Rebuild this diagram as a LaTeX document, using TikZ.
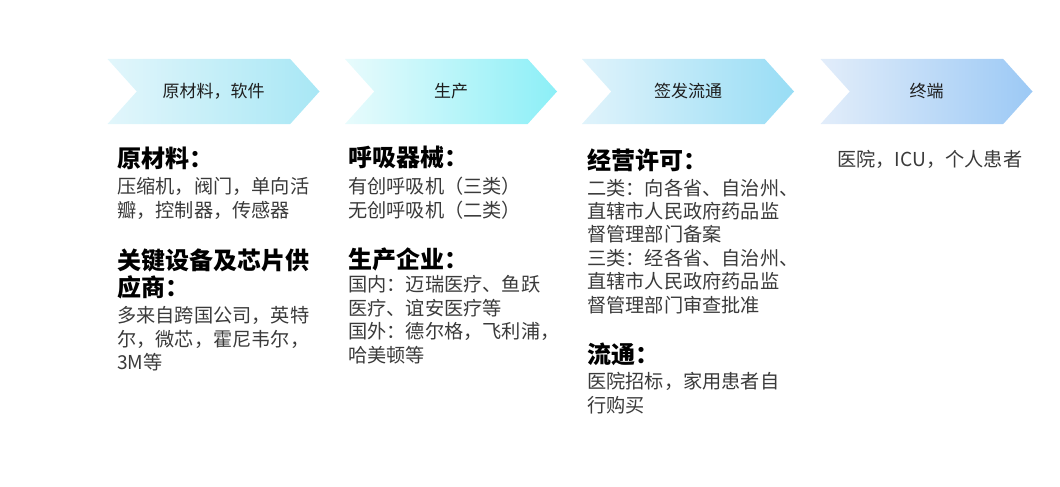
\documentclass[tikz,border=0pt]{standalone}
\usepackage{fontspec}
\setmainfont{Noto Sans CJK SC}
\usetikzlibrary{positioning,shapes.symbols}

\definecolor{rawL}{HTML}{E2F6FB}
\definecolor{rawR}{HTML}{A8E7F5}
\definecolor{prodL}{HTML}{E8FBFC}
\definecolor{prodR}{HTML}{8CEFF7}
\definecolor{distL}{HTML}{E0F3FB}
\definecolor{distR}{HTML}{98DDF5}
\definecolor{termL}{HTML}{E2EDFA}
\definecolor{termR}{HTML}{9CC9F5}
\definecolor{ink}{HTML}{1E1E1E}
\definecolor{txt}{HTML}{3A3A3A}

\begin{document}
\begin{tikzpicture}[
  x=1pt, y=-1pt,
  stage/.style={signal, signal to=east, signal from=west, signal pointer angle=96,
    minimum width=212pt, minimum height=65pt, inner sep=0pt, draw=none,
    font=\fontsize{17}{20}\selectfont, text=ink},
  hd/.style={anchor=base west, inner sep=0pt, align=left,
    font=\fontsize{24}{27}\bfseries\selectfont, text=black},
  body/.style={anchor=base west, inner sep=0pt, align=left,
    font=\fontsize{19.2}{23.4}\selectfont, text=txt},
]
\useasboundingbox (0,0) rectangle (1060,487);

% process chevrons
\node[stage, left color=rawL, right color=rawR] (raw) at (213.5,91.5) {原材料，软件};
\node[stage, left color=prodL, right color=prodR] (prod) at (451,91.5) {生产};
\node[stage, left color=distL, right color=distR] (dist) at (688,91.5) {签发流通};
\node[stage, left color=termL, right color=termR] (term) at (926.5,91.5) {终端};

% raw materials (base = last line)
\node[hd] (rawhd) at (117,167) {原材料：};
\node[body] (rawtx) at (117,217) {压缩机，阀门，单向活\\瓣，控制器，传感器};
\node[hd] (chiphd) at (117,296.5) {关键设备及芯片供\\应商：};
\node[body] (chiptx) at (117,369.5) {多来自跨国公司，英特\\尔，微芯，霍尼韦尔，\\3M等};

% production
\node[hd] (venthd) at (348,166.5) {呼吸器械：};
\node[body] (venttx) at (348,217) {有创呼吸机（三类）\\无创呼吸机（二类）};
\node[hd] (makerhd) at (348,268.5) {生产企业：};
\node[body] (makertx) at (348,362) {国内：迈瑞医疗、鱼跃\\医疗、谊安医疗等\\国外：德尔格，飞利浦，\\哈美顿等};

% licensing and circulation
\node[hd] (lichd) at (587,169) {经营许可：};
\node[body] (lictx) at (587,312) {二类：向各省、自治州、\\直辖市人民政府药品监\\督管理部门备案\\三类：经各省、自治州、\\直辖市人民政府药品监\\督管理部门审查批准};
\node[hd] (circhd) at (587,363.5) {流通：};
\node[body] (circtx) at (587,412) {医院招标，家用患者自\\行购买};

% end users
\node[body] (termtx) at (837,166) {医院，ICU，个人患者};
\end{tikzpicture}
\end{document}
